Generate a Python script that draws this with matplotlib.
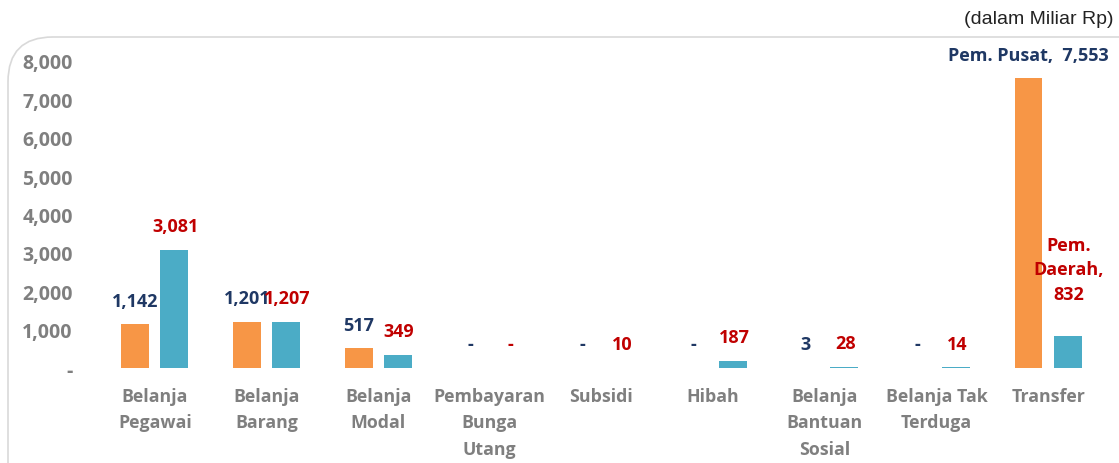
import numpy as np
import matplotlib.pyplot as plt
from matplotlib.patches import FancyBboxPatch

# data (dalam Miliar Rp)
categories = ["Belanja\nPegawai", "Belanja\nBarang", "Belanja\nModal", "Pembayaran\nBunga\nUtang",
              "Subsidi", "Hibah", "Belanja\nBantuan\nSosial", "Belanja Tak\nTerduga", "Transfer"]
series_names = ["Pem. Pusat", "Pem. Daerah"]
pusat = [1142, 1201, 517, 0, 0, 0, 3, 0, 7553]
daerah = [3081, 1207, 349, 0, 10, 187, 28, 14, 832]
yticks = [0, 1000, 2000, 3000, 4000, 5000, 6000, 7000, 8000]

orange = "#F79646"
blue = "#4BACC6"
navy = "#1F3864"
red = "#C00000"
grey = "#7F7F7F"
font = ["Open Sans", "DejaVu Sans"]

plt.rcParams["font.family"] = font

fig = plt.figure(figsize=(11.19, 4.64), dpi=100)
ax = fig.add_axes([0.0885, 0.2047, 0.898, 0.6617])

# rounded frame
frame = FancyBboxPatch((8 / 1119, -0.2), 1.2, 1.2 - 38 / 464, boxstyle="round,pad=0,rounding_size=0.04",
                       transform=fig.transFigure, facecolor="none", edgecolor="#D9D9D9", lw=1.2,
                       mutation_aspect=1119 / 464)
fig.patches.append(frame)

x = np.arange(len(categories))
w = 0.25
off = 0.175
ax.bar(x - off, pusat, w, color=orange)
ax.bar(x + off, daerah, w, color=blue)


def fmt(v):
    return "-" if v == 0 else f"{v:,}"


for i in range(len(categories)):
    if i == len(categories) - 1:
        t1 = f"{series_names[0]},  {fmt(pusat[i])}"
        t2 = series_names[1].replace(" ", "\n") + ",\n" + fmt(daerah[i])
        dy2 = 48
    else:
        t1 = fmt(pusat[i])
        t2 = fmt(daerah[i])
        dy2 = 17
    ax.annotate(t1, (x[i] - off, pusat[i]), xytext=(0, 17), textcoords="offset points",
                ha="center", va="center", color=navy, fontsize=13, fontweight="bold",
                annotation_clip=False)
    ax.annotate(t2, (x[i] + off, daerah[i]), xytext=(1, dy2), textcoords="offset points",
                ha="center", va="center", color=red, fontsize=13, fontweight="bold",
                annotation_clip=False, linespacing=1.45)

ax.set_xlim(-0.5, len(categories) - 0.5)
ax.set_ylim(0, 8000)
ax.set_yticks(yticks)
ax.set_yticklabels([fmt(v) for v in yticks], color=grey, fontsize=14, fontweight="bold")
ax.set_xticks(x)
ax.set_xticklabels(categories, color=grey, fontsize=12.8, fontweight="bold", linespacing=1.6)
ax.tick_params(axis="y", length=0, pad=19)
ax.tick_params(axis="x", length=0, pad=13.5)
for s in ax.spines.values():
    s.set_visible(False)

fig.text(1113 / 1119, 1 - 20 / 464, "(dalam Miliar Rp)", ha="right", va="center",
         fontsize=14, family="Liberation Sans", color="#222222")

fig.savefig("out.png", dpi=100)
